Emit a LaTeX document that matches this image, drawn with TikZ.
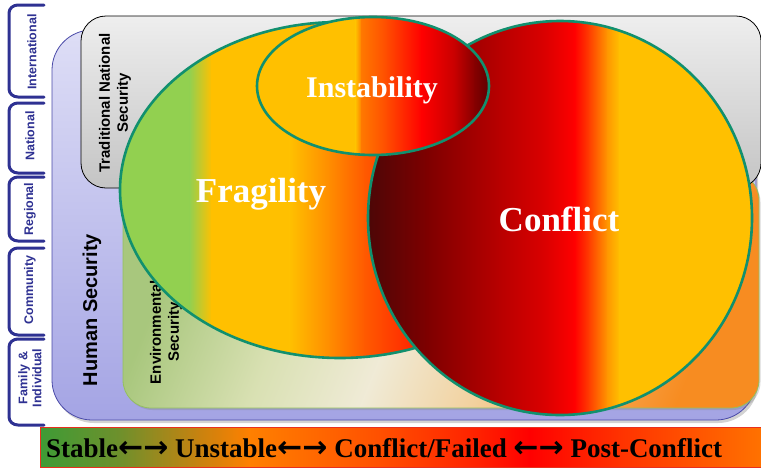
\documentclass[tikz,border=0pt]{standalone}
\usepackage{fontspec}
\setmainfont{Liberation Serif}
\newfontfamily\hsans{Liberation Sans}
\newfontfamily\arrowfont{DejaVu Sans}
\usetikzlibrary{shadows}

\definecolor{hsTop}{HTML}{DEDEF6}
\definecolor{hsBot}{HTML}{A4A4E4}
\definecolor{hsLine}{HTML}{4A4AA8}
\definecolor{tnsTop}{HTML}{EEEEEE}
\definecolor{tnsBot}{HTML}{C4C4C4}
\definecolor{envLine}{HTML}{94C060}
\definecolor{ringc}{HTML}{11906E}
\definecolor{navy}{HTML}{2E3192}
\definecolor{fgreen}{HTML}{92D050}
\definecolor{amber}{HTML}{FFC000}
\definecolor{orA}{HTML}{FF8C00}
\definecolor{orB}{HTML}{FF5A00}
\definecolor{orC}{HTML}{FF2A00}
\definecolor{inA}{HTML}{FF7800}
\definecolor{inB}{HTML}{FF5000}
\definecolor{rd}{HTML}{FF0000}
\definecolor{rdA}{HTML}{C80000}
\definecolor{rdB}{HTML}{850000}
\definecolor{rdC}{HTML}{500000}
\definecolor{cfA}{HTML}{4E0606}
\definecolor{cfB}{HTML}{800000}
\definecolor{cfC}{HTML}{B80000}
\definecolor{cfD}{HTML}{DA0000}
\definecolor{cfE}{HTML}{FF4000}
\definecolor{cfF}{HTML}{FF9800}
\definecolor{brA}{HTML}{3E9B36}
\definecolor{brB}{HTML}{6E902C}
\definecolor{brC}{HTML}{C8820F}
\definecolor{brD}{HTML}{FF8000}
\definecolor{brE}{HTML}{FF5000}
\definecolor{brF}{HTML}{FF2000}
\definecolor{brG}{HTML}{FF3200}
\definecolor{brH}{HTML}{FF7200}
\definecolor{barLine}{HTML}{E8301E}

\pgfdeclarehorizontalshading{envshade}{100bp}{rgb(0bp)=(0.66,0.78,0.49); rgb(25bp)=(0.66,0.78,0.49); rgb(37bp)=(0.85,0.88,0.70); rgb(47bp)=(0.94,0.92,0.84); rgb(57bp)=(0.95,0.82,0.62); rgb(67bp)=(0.97,0.66,0.33); rgb(75bp)=(0.97,0.55,0.13); rgb(100bp)=(0.97,0.55,0.13)}

\newcommand\gradstrips[3]{%
  \foreach \xa/\xb/\ca/\cb in {#3} {\shade[left color=\ca, right color=\cb] (\xa-0.6,#1) rectangle (\xb,#2);}}
\newcommand\levelbracket[2]{%
  \draw[brk] (44,#1) -- (18,#1) to[out=180,in=90] (9,#1+8) -- (9,#2-8) to[out=-90,in=180] (18,#2) -- (44,#2);}
\newcommand\barrows{{\arrowfont\fontsize{30}{30}\selectfont ←→}}

\begin{document}
\begin{tikzpicture}[x=1pt,y=-1pt,
  ring/.style={draw=ringc, line width=2.6pt},
  brk/.style={draw=navy, line width=3pt, line cap=round},
  lvl/.style={rotate=90, text=navy, font=\hsans\bfseries\fontsize{12.5}{14}\selectfont, align=center, inner sep=0pt},
  side/.style={rotate=90, font=\hsans\bfseries\fontsize{15}{18}\selectfont, align=center, inner sep=0pt},
  big/.style={text=white, font=\bfseries\fontsize{35}{40}\selectfont, inner sep=0pt, anchor=base}]
\useasboundingbox (0,0) rectangle (761,469);

% Human Security box
\path[drop shadow={shadow xshift=2pt, shadow yshift=-3pt, opacity=0.35}, top color=hsTop, bottom color=hsBot, draw=hsLine, line width=0.8pt, rounded corners=40] (52,30) rectangle (756,420);

% Environmental Security box
\path[drop shadow={shadow xshift=1.5pt, shadow yshift=-2pt, opacity=0.3}, shading=envshade, shading angle=-22, draw=envLine, line width=0.8pt, rounded corners=28] (123,172) rectangle (759,408);

% Traditional National Security box
\path[top color=tnsTop, bottom color=tnsBot, draw=black, line width=0.8pt, rounded corners=25] (81,16) rectangle (761,188);

\node[side] (tns) at (115,103) {Traditional National\\Security};
\node[side] (env) at (166,332) {Environmental\\Security};
\node[rotate=90, font=\hsans\bfseries\fontsize{20}{24}\selectfont, inner sep=0pt] (hs) at (92,310) {Human Security};

% Fragility
\begin{scope}
\clip (340,190) ellipse [x radius=220, y radius=168];
\gradstrips{15}{365}{110/190/fgreen/fgreen, 190/212/fgreen/amber, 212/290/amber/amber, 290/330/amber/orA, 330/365/orA/orB, 365/410/orB/orC, 410/570/orC/orC}
\end{scope}
\draw[ring] (340,190) ellipse [x radius=220, y radius=168];

% Conflict
\begin{scope}
\clip (560,218) ellipse [x radius=192, y radius=197];
\gradstrips{15}{420}{360/370/cfA/cfA, 370/430/cfA/cfB, 430/500/cfB/cfC, 500/545/cfC/cfD, 545/575/cfD/rd, 575/590/rd/cfE, 590/608/cfE/cfF, 608/620/cfF/amber, 620/760/amber/amber}
\end{scope}
\draw[ring] (560,218) ellipse [x radius=192, y radius=197];

% Instability
\begin{scope}
\clip (373,86) ellipse [x radius=116, y radius=69];
\gradstrips{15}{160}{250/356/amber/amber, 356/362/amber/inA, 362/385/inA/inB, 385/422/inB/rd, 422/455/rd/rdA, 455/475/rdA/rdB, 475/495/rdB/rdC}
\end{scope}
\draw[ring] (373,86) ellipse [x radius=116, y radius=69];

\node[big] (frag) at (261,202) {Fragility};
\node[big] (conf) at (559,231) {Conflict};
\node[big, font=\bfseries\fontsize{30}{34}\selectfont] (inst) at (372,97) {Instability};

% Bottom bar
\begin{scope}
\clip (40,427) rectangle (761,467);
\gradstrips{427}{467}{40/120/brA/brB, 120/200/brB/brC, 200/250/brC/brD, 250/380/brD/brE, 380/480/brE/brF, 480/530/brF/rd, 530/620/rd/brG, 620/762/brG/brH}
\end{scope}
\draw[barLine, line width=0.9pt] (40,427) rectangle (762,467);
\node[font=\bfseries\fontsize{27}{29}\selectfont, anchor=base west, inner sep=0pt] (scale) at (46,457) {Stable\barrows{} Unstable\barrows{} Conflict/Failed \barrows{} Post-Conflict};

% Level brackets
\levelbracket{5}{97}
\levelbracket{103}{173}
\levelbracket{177}{241}
\levelbracket{248}{335}
\levelbracket{339}{425}
\node[lvl] (intl) at (32,52) {International};
\node[lvl] (natl) at (30,136) {National};
\node[lvl] (regl) at (30,209) {Regional};
\node[lvl] (comm) at (30,290) {Community};
\node[lvl] (fam) at (30,378) {Family \&\\Individual};
\end{tikzpicture}
\end{document}
